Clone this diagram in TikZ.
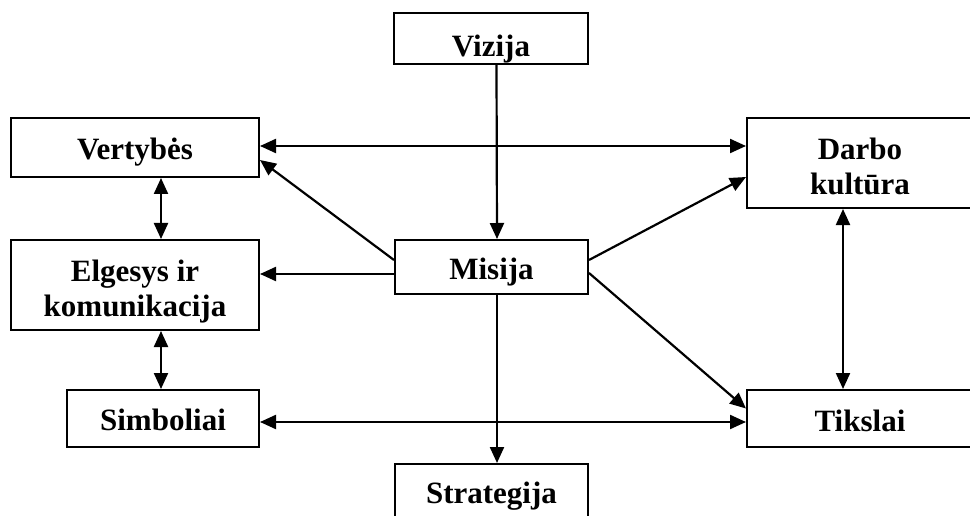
\documentclass[tikz,border=0pt]{standalone}
\usepackage{fontspec}
\setmainfont{Liberation Serif}
\usetikzlibrary{arrows.meta}
\begin{document}
\begin{tikzpicture}[x=1pt, y=-1pt,
  box/.style={draw, line width=2pt, align=center, inner sep=0pt,
    text depth=0pt, text height=24pt,
    font=\fontsize{31}{35}\selectfont\bfseries},
  twoline/.style={text height=62pt},
  tip/.tip={Triangle[length=16pt,width=14pt]},
  link/.style={line width=2.2pt, -tip},
  dlink/.style={line width=2.2pt, tip-tip}]
  \useasboundingbox (0,0) rectangle (970,516);
  \clip (0,0) rectangle (970,516);
  % boxes
  \node[box, text height=36pt, minimum width=194pt, minimum height=51pt] (viz) at (491,38.5) {Vizija};
  \node[box, minimum width=193pt, minimum height=54pt] (mis) at (491.5,267) {Misija};
  \node[box, text height=25pt, minimum width=248pt, minimum height=59pt] (ver) at (135,147.5) {Vertybės};
  \node[box, twoline, minimum width=248pt, minimum height=90pt] (elg) at (135,285) {Elgesys ir\\komunikacija};
  \node[box, text height=23pt, minimum width=192pt, minimum height=57pt] (sim) at (163,418.5) {Simboliai};
  \node[box, twoline, minimum width=226pt, minimum height=90pt] (dar) at (860,163) {Darbo\\kultūra};
  \node[box, text height=25pt, minimum width=226pt, minimum height=57pt] (tik) at (860,418.5) {Tikslai};
  \node[box, text height=18pt, minimum width=193pt, minimum height=60pt] (str) at (491.5,494) {Strategija};
  % connectors
  \draw[link] ([xshift=5.5pt]viz.south) -- ([xshift=5.5pt]mis.north);
  \draw[link] ([xshift=5.5pt]mis.south) -- ([xshift=5.5pt]str.north);
  \draw[dlink] ([yshift=1.5pt]ver.east) -- ([yshift=1.5pt]ver.east -| dar.west);
  \draw[link] ([yshift=7pt]mis.west) -- ([yshift=-12.5pt]ver.east);
  \draw[link] ([yshift=-7pt]mis.west) -- ([yshift=-7pt]mis.west -| elg.east);
  \draw[link] ([yshift=7pt]mis.east) -- ([yshift=-14pt]dar.west);
  \draw[link] ([yshift=-6pt]mis.east) -- ([yshift=10pt]tik.west);
  \draw[dlink] ([xshift=26pt]ver.south) -- ([xshift=26pt]elg.north);
  \draw[dlink] ([xshift=26pt]elg.south) -- ([xshift=26pt]elg.south |- sim.north);
  \draw[dlink] ([xshift=-17pt]dar.south) -- ([xshift=-17pt]tik.north);
  \draw[dlink] ([yshift=-3.5pt]sim.east) -- ([yshift=-3.5pt]tik.west);
\end{tikzpicture}
\end{document}
